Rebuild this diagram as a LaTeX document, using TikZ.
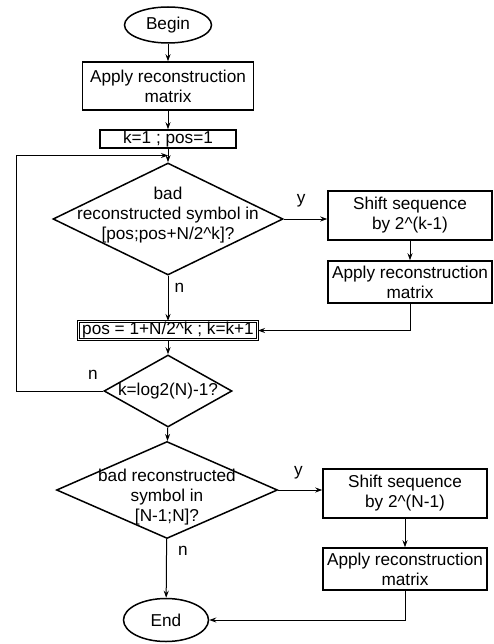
\documentclass[tikz,border=0pt]{standalone}
\usepackage{fontspec}
\setmainfont{Liberation Sans}
\usetikzlibrary{shapes.geometric, arrows.meta, positioning, calc}
\newcommand{\txtfont}{\fontsize{17.2}{20}\selectfont}
\tikzset{
    base/.style={draw=black, line width=1.5pt, align=center, inner sep=1pt, font=\txtfont},
    terminal/.style={base, ellipse},
    process/.style={base, rectangle},
    decision/.style={base, diamond},
    dtext/.style={align=center, inner sep=0pt, font=\txtfont},
    lbl/.style={font=\txtfont, inner sep=2pt},
    arrow/.style={-{Stealth[length=7pt, width=5pt]}, line width=1pt}
}

\begin{document}
\begin{tikzpicture}[x=1pt, y=-1pt]
    \useasboundingbox (0,0) rectangle (493,644);

    \node[terminal, minimum width=87pt, minimum height=36pt] (begin) at (168,25) {Begin};
    \node[process, minimum width=171pt, minimum height=48pt] (apply1) at (168,86) {Apply reconstruction\\matrix};
    \node[process, minimum width=136pt, minimum height=18pt] (init) at (168,139) {k=1 ; pos=1};

    \node[decision, minimum width=230pt, minimum height=112pt,
        label={[dtext, yshift=4pt]center:{bad\\reconstructed symbol in\\{}[pos;pos+N/2\textasciicircum k]?}}] (test1) at (168,219) {};
    \node[process, minimum width=164pt, minimum height=49pt] (shift1) at (410,215.5) {Shift sequence\\by 2\textasciicircum(k-1)};
    \node[process, minimum width=164pt, minimum height=42pt] (apply2) at (410,282) {Apply reconstruction\\matrix};

    \node[process, double, line width=1pt, double distance=1pt, minimum width=179pt, minimum height=17pt] (update) at (168,330.5) {pos = 1+N/2\textasciicircum k ; k=k+1};
    \node[decision, minimum width=128pt, minimum height=72pt,
        label={[dtext]center:{k=log2(N)-1?}}] (test2) at (168,391) {};

    \node[decision, minimum width=221pt, minimum height=97pt,
        label={[dtext, yshift=-7pt]center:{bad reconstructed\\symbol in\\{}[N-1;N]?}}] (test3) at (167,490) {};
    \node[process, minimum width=164pt, minimum height=49pt] (shift2) at (405,493.5) {Shift sequence\\by 2\textasciicircum(N-1)};
    \node[process, minimum width=164pt, minimum height=42pt] (apply3) at (405,569) {Apply reconstruction\\matrix};
    \node[terminal, minimum width=85pt, minimum height=43pt] (end) at (166,620) {End};

    \coordinate (loopjoin) at ($(init.south)!0.5!(test1.north)$);
    \coordinate (loopleft) at (16,0);

    % main column
    \draw[arrow] (begin) -- (apply1);
    \draw[arrow] (apply1) -- (init);
    \draw[arrow] (init) -- (test1);
    \draw[arrow] (test1) -- node[lbl, right=4pt, pos=0.26] {n} (update);
    \draw[arrow] (update) -- (test2);
    \draw[arrow] (test2) -- (test3);
    \draw[arrow] (test3) -- node[lbl, right=9pt, pos=0.2] {n} (end);

    % yes branches
    \draw[arrow] (test1.east) -- node[lbl, above=9pt, pos=0.4] {y} (shift1.west |- test1.east);
    \draw[arrow] (shift1) -- (apply2);
    \draw[arrow] (apply2.south) |- (update.east);
    \draw[arrow] (test3.east) -- node[lbl, above=8pt, pos=0.46] {y} (shift2.west |- test3.east);
    \draw[arrow] (shift2) -- (apply3);
    \draw[arrow] (apply3.south) |- (end.east);

    % loop back
    \draw[arrow] (test2.west) node[lbl, anchor=south east, xshift=-3pt, yshift=9pt] {n}
        -- (test2.west -| loopleft) |- (loopjoin);
\end{tikzpicture}
\end{document}
